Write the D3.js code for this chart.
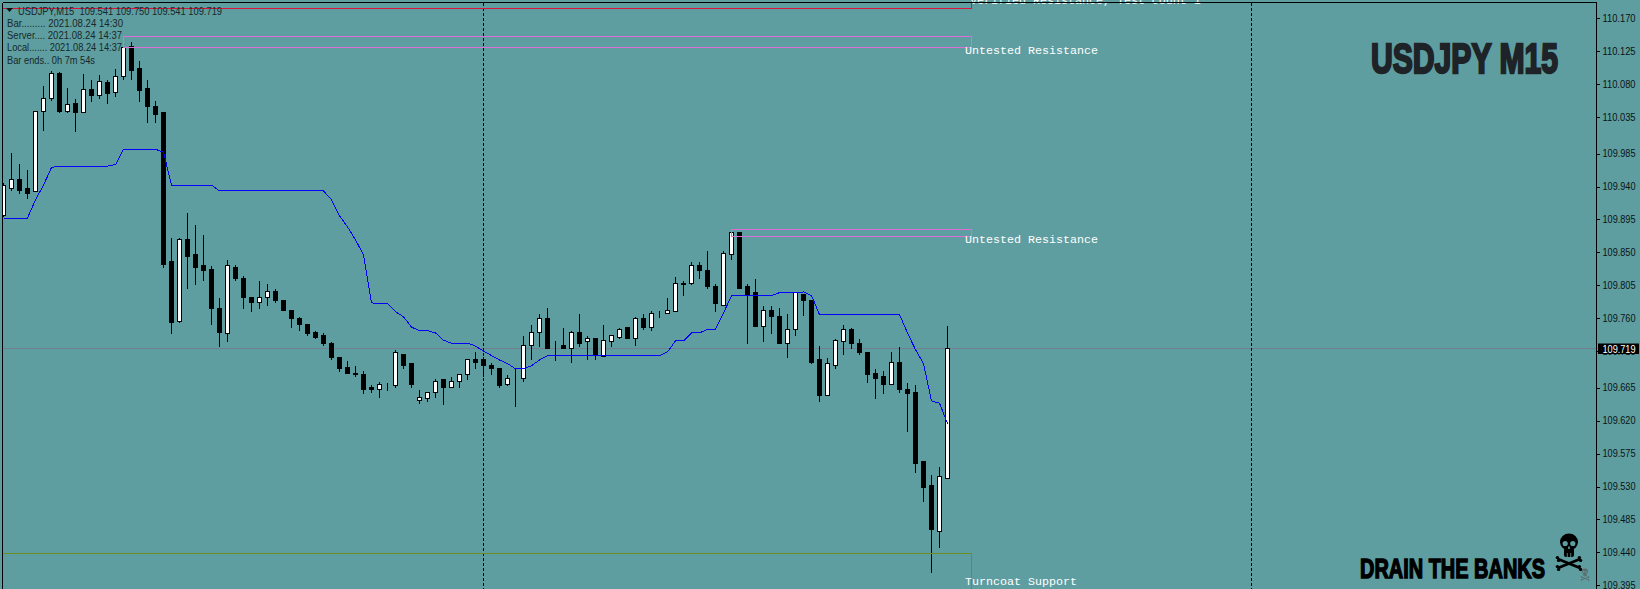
<!DOCTYPE html>
<html><head><meta charset="utf-8">
<script src="https://cdnjs.cloudflare.com/ajax/libs/d3/7.8.5/d3.min.js"></script>
<style>html,body{margin:0;padding:0;background:#5f9ea0;overflow:hidden}svg{display:block}</style>
</head><body><svg id="c" width="1640" height="589"></svg>
<script>
const opens=[109.900,109.938,109.949,109.937,109.933,110.043,110.060,110.094,110.043,110.053,110.041,110.072,110.064,110.082,110.068,110.090,110.131,110.102,110.074,110.049,110.041,
109.837,109.755,109.867,109.847,109.832,109.826,109.774,109.739,109.830,109.815,109.788,109.782,109.788,109.796,109.784,109.771,109.760,109.751,109.741,109.736,
109.726,109.707,109.693,109.685,109.683,109.665,109.663,109.666,109.668,109.711,109.698,109.648,109.650,109.658,109.676,109.666,109.674,109.683,109.703,109.703,
109.696,109.692,109.669,109.677,109.677,109.723,109.741,109.759,109.722,109.723,109.719,109.740,109.728,109.732,109.708,109.728,109.734,109.747,109.732,109.759,
109.748,109.766,109.766,109.769,109.808,109.808,109.832,109.825,109.804,109.778,109.847,109.877,109.803,109.795,109.749,109.770,109.763,109.725,109.745,109.793,
109.784,109.703,109.654,109.695,109.728,109.745,109.725,109.713,109.684,109.680,109.669,109.699,109.663,109.659,109.564,109.531,109.469,109.541];
const highs=[109.945,109.986,109.971,109.964,110.042,110.078,110.098,110.097,110.075,110.060,110.094,110.087,110.093,110.086,110.101,110.130,110.138,110.112,110.086,110.057,110.041,
109.870,109.870,109.904,109.888,109.874,109.832,109.789,109.841,109.833,109.818,109.789,109.811,109.807,109.801,109.785,109.771,109.763,109.751,109.743,109.740,
109.728,109.707,109.702,109.696,109.688,109.670,109.674,109.672,109.717,109.711,109.698,109.663,109.659,109.678,109.676,109.681,109.685,109.704,109.714,109.708,
109.699,109.692,109.683,109.692,109.737,109.751,109.766,109.775,109.729,109.748,109.743,109.767,109.736,109.732,109.751,109.737,109.748,109.747,109.763,109.766,
109.770,109.770,109.788,109.817,109.812,109.838,109.837,109.852,109.808,109.852,109.877,109.877,109.807,109.815,109.777,109.778,109.775,109.766,109.796,109.793,
109.784,109.723,109.706,109.732,109.751,109.748,109.733,109.715,109.692,109.688,109.715,109.722,109.672,109.670,109.564,109.547,109.557,109.750];
const lows=[109.899,109.934,109.931,109.924,109.933,110.016,110.057,110.041,110.041,110.015,110.041,110.056,110.061,110.053,110.063,110.087,110.087,110.056,110.028,110.027,109.829,
109.739,109.754,109.801,109.806,109.811,109.751,109.721,109.728,109.811,109.773,109.769,109.773,109.778,109.782,109.771,109.747,109.743,109.736,109.732,109.723,
109.703,109.687,109.684,109.680,109.657,109.659,109.652,109.661,109.666,109.692,109.665,109.643,109.646,109.652,109.642,109.665,109.666,109.676,109.692,109.680,
109.683,109.666,109.668,109.639,109.674,109.704,109.722,109.719,109.702,109.719,109.699,109.722,109.704,109.704,109.708,109.721,109.733,109.733,109.723,109.745,
109.743,109.761,109.766,109.769,109.791,109.806,109.815,109.800,109.769,109.778,109.841,109.800,109.725,109.749,109.728,109.739,109.726,109.707,109.736,109.764,
109.698,109.646,109.654,109.692,109.710,109.718,109.711,109.672,109.651,109.657,109.669,109.659,109.605,109.549,109.510,109.412,109.447,109.541];
const closes=[109.941,109.949,109.935,109.931,110.042,110.060,110.094,110.043,110.052,110.041,110.072,110.065,110.083,110.067,110.091,110.130,110.099,110.071,110.049,110.038,109.834,
109.754,109.867,109.844,109.829,109.825,109.774,109.740,109.832,109.814,109.788,109.781,109.789,109.797,109.784,109.771,109.760,109.751,109.739,109.734,109.725,
109.706,109.692,109.684,109.683,109.662,109.662,109.669,109.666,109.713,109.695,109.669,109.652,109.658,109.674,109.666,109.673,109.683,109.704,109.700,109.695,
109.691,109.668,109.677,109.677,109.723,109.740,109.760,109.719,109.722,109.719,109.740,109.725,109.732,109.710,109.730,109.736,109.744,109.733,109.760,109.748,
109.766,109.766,109.771,109.808,109.806,109.832,109.825,109.803,109.780,109.848,109.877,109.800,109.792,109.749,109.770,109.763,109.726,109.745,109.795,109.784,
109.700,109.654,109.698,109.729,109.744,109.725,109.713,109.683,109.677,109.670,109.699,109.662,109.657,109.561,109.528,109.471,109.544,109.719];
const maValues=[109.897,109.897,109.897,109.897,109.922,109.942,109.966,109.968,109.968,109.968,109.968,109.968,109.968,109.968,109.970,109.991,109.991,109.991,109.991,109.991,109.987,
109.942,109.942,109.942,109.942,109.942,109.942,109.934,109.934,109.934,109.934,109.934,109.934,109.934,109.934,109.934,109.934,109.934,109.934,109.934,109.934,
109.922,109.900,109.885,109.867,109.847,109.781,109.780,109.780,109.769,109.762,109.748,109.743,109.743,109.740,109.730,109.726,109.726,109.726,109.722,109.715,
109.709,109.703,109.698,109.691,109.691,109.695,109.703,109.709,109.709,109.709,109.709,109.709,109.709,109.709,109.709,109.709,109.709,109.709,109.709,109.709,
109.709,109.709,109.714,109.729,109.729,109.740,109.740,109.745,109.745,109.767,109.791,109.791,109.791,109.791,109.791,109.791,109.795,109.795,109.795,109.796,
109.791,109.765,109.765,109.765,109.765,109.765,109.765,109.765,109.765,109.765,109.765,109.765,109.740,109.717,109.698,109.647,109.644,109.616];
const tickValues=[110.170,110.125,110.080,110.035,109.985,109.940,109.895,109.850,109.805,109.760,109.715,109.665,109.620,109.575,109.530,109.485,109.440,109.395];
const lastPrice=109.719;
const separators=[60,156];
const zoneNames=["Verified Resistance, Test Count 1","Untested Resistance","Untested Resistance","Turncoat Support"];
const zoneTops=[110.200,110.145,109.882,109.438];
const zoneBottoms=[110.184,110.130,109.872,109.370];
const zoneStarts=[-1,15,91,-1];
const zoneEnd=121;
const zoneColors=["#dc143c","#da70d6","#da70d6","#6b8e23"];
const infoLines=["Bar......... 2021.08.24 14:30","Server.... 2021.08.24 14:37","Local....... 2021.08.24 14:37","Bar ends.. 0h 7m 54s"];
const headerText="USDJPY,M15  109.541 109.750 109.541 109.719";

const svg=d3.select("#c");
const W=1640,H=589,frameL=2.5,frameR=1596.5,frameT=2.5;
const x=d3.scaleLinear().domain([0,118]).range([3.5,947.5]);
const y=d3.scaleLinear().domain([109.395,110.170]).range([585.3,18.3]);
const py=v=>Math.round(y(v)-.5)+.5;
svg.append("rect").attr("width",W).attr("height",H).attr("fill","#5f9ea0");
svg.append("clipPath").attr("id","cp").append("rect").attr("x",frameL).attr("y",0).attr("width",frameR-frameL).attr("height",H);
const g=svg.append("g").attr("clip-path","url(#cp)").attr("shape-rendering","crispEdges");

// last-price line
g.append("line").attr("x1",frameL).attr("x2",frameR).attr("y1",py(lastPrice)).attr("y2",py(lastPrice)).attr("stroke","#708090");
// separators
g.selectAll("line.sep").data(separators).join("line").attr("class","sep")
 .attr("x1",d=>x(d)).attr("x2",d=>x(d)).attr("y1",frameT).attr("y2",H)
 .attr("stroke","#000").attr("stroke-dasharray","3,2");

// candles
const bars=d3.range(opens.length);
g.selectAll("line.wick").data(bars).join("line").attr("class","wick")
 .attr("x1",i=>x(i)).attr("x2",i=>x(i)).attr("y1",i=>py(highs[i])).attr("y2",i=>py(lows[i])+.5).attr("stroke","#000");
g.selectAll("rect.body").data(bars).join("rect").attr("class","body")
 .attr("x",i=>x(i)-2).attr("width",4)
 .attr("y",i=>Math.min(py(opens[i]),py(closes[i])))
 .attr("height",i=>Math.abs(py(opens[i])-py(closes[i])))
 .attr("fill",i=>closes[i]>opens[i]?"#fff":"#000").attr("stroke","#000");

// moving average
g.append("path").datum(maValues).attr("fill","none").attr("stroke","#0000ff").attr("stroke-width",1)
 .attr("d",d3.line().x((d,i)=>x(i)).y(d=>y(d)));

// zones
g.selectAll("rect.zone").data(zoneNames).join("rect").attr("class","zone")
 .attr("x",(d,i)=>x(zoneStarts[i])).attr("width",(d,i)=>x(zoneEnd)-x(zoneStarts[i]))
 .attr("y",(d,i)=>py(zoneTops[i])).attr("height",(d,i)=>py(zoneBottoms[i])-py(zoneTops[i]))
 .attr("fill","none").attr("stroke",(d,i)=>zoneColors[i]);
svg.selectAll("text.zl").data(zoneNames).join("text").attr("class","zl")
 .attr("x",(d,i)=>i===0?970:965)
 .attr("y",(d,i)=>[4,54,243,584.5][i])
 .attr("fill","#fff").attr("font-family","'Liberation Mono',monospace").attr("font-size",11.67)
 .text(d=>d);

// frame
const fr=svg.append("g").attr("stroke","#000").attr("shape-rendering","crispEdges");
fr.append("line").attr("x1",frameL).attr("x2",frameR).attr("y1",frameT).attr("y2",frameT);
fr.append("line").attr("x1",frameL).attr("x2",frameL).attr("y1",frameT).attr("y2",H);
fr.append("line").attr("x1",frameR).attr("x2",frameR).attr("y1",frameT).attr("y2",H);

// axis
const sans="'Liberation Sans',sans-serif";
const ax=svg.append("g").attr("transform",`translate(${frameR},0)`)
 .call(d3.axisRight(y).tickValues(tickValues).tickFormat(d=>d.toFixed(3)).tickSize(3).tickPadding(3));
ax.select(".domain").remove();
ax.selectAll("line").attr("stroke","#000").attr("shape-rendering","crispEdges");
ax.selectAll("text").attr("fill","#0a1416").attr("font-family",sans).attr("font-size",10)
 .attr("textLength",33).attr("lengthAdjust","spacingAndGlyphs");

// last price box
svg.append("rect").attr("x",1598).attr("y",py(lastPrice)-5).attr("width",41).attr("height",10.5).attr("fill","#000");
svg.append("text").attr("x",1602.5).attr("y",py(lastPrice)+4).attr("fill","#fff")
 .attr("font-family",sans).attr("font-size",10).attr("textLength",33).attr("lengthAdjust","spacingAndGlyphs")
 .text(lastPrice.toFixed(3));

// header
svg.append("path").attr("d",d3.line()([[6,8],[13,8],[9.5,12]])+"Z").attr("fill","#111");
svg.append("text").attr("x",18).attr("y",15).attr("fill","#16282a").attr("font-family",sans).attr("font-size",11)
 .attr("textLength",204).attr("lengthAdjust","spacingAndGlyphs").style("white-space","pre").text(headerText);
const infoW=[116,115,115,88];
svg.selectAll("text.info").data(infoLines).join("text").attr("class","info")
 .attr("x",7).attr("y",(d,i)=>27+i*12.2).attr("fill","#16282a").attr("font-family",sans).attr("font-size",11)
 .attr("textLength",(d,i)=>infoW[i]).attr("lengthAdjust","spacingAndGlyphs").text(d=>d);

// watermark text
svg.append("text").attr("x",1371).attr("y",72.5).attr("fill","#1e2328").attr("stroke","#1e2328").attr("stroke-width",2.4)
 .attr("font-family",sans).attr("font-weight","bold").attr("font-size",43)
 .attr("textLength",187).attr("lengthAdjust","spacingAndGlyphs").text("USDJPY M15");
svg.append("text").attr("x",1360).attr("y",577.5).attr("fill","#000").attr("stroke","#000").attr("stroke-width",1.5)
 .attr("font-family",sans).attr("font-weight","bold").attr("font-size",28)
 .attr("textLength",185).attr("lengthAdjust","spacingAndGlyphs").text("DRAIN THE BANKS");

// skull and crossbones emblem, drawn around its own centre
function emblem(cx,cy,s,col,bg){
  const e=svg.append("g").attr("transform",`translate(${cx},${cy}) scale(${s})`);
  e.append("ellipse").attr("cx",0).attr("cy",-11).attr("rx",9).attr("ry",8.5).attr("fill",col);
  e.append("rect").attr("x",-5).attr("y",-5).attr("width",10).attr("height",9).attr("rx",2).attr("fill",col);
  [-3.8,3.8].forEach(dx=>e.append("circle").attr("cx",dx).attr("cy",-9.5).attr("r",2.6).attr("fill",bg));
  e.append("rect").attr("x",-.8).attr("y",-6.5).attr("width",1.6).attr("height",2.5).attr("fill",bg);
  [-1.8,1.8].forEach(dx=>e.append("rect").attr("x",dx-.4).attr("y",0).attr("width",.8).attr("height",4).attr("fill",bg));
  [[-11,6,11,15],[-11,15,11,6]].forEach(b=>{
    e.append("line").attr("x1",b[0]).attr("y1",b[1]).attr("x2",b[2]).attr("y2",b[3]).attr("stroke",col).attr("stroke-width",2.8);
    [[b[0],b[1]],[b[2],b[3]]].forEach(p=>[-1,1].forEach(k=>
      e.append("circle").attr("cx",p[0]+k*.6).attr("cy",p[1]+k*1.4).attr("r",1.7).attr("fill",col)));
  });
}
emblem(1569,553,1,"#000","#5f9ea0");
emblem(1585,575,.33,"#5d6b6e","#5f9ea0");
</script></body></html>
